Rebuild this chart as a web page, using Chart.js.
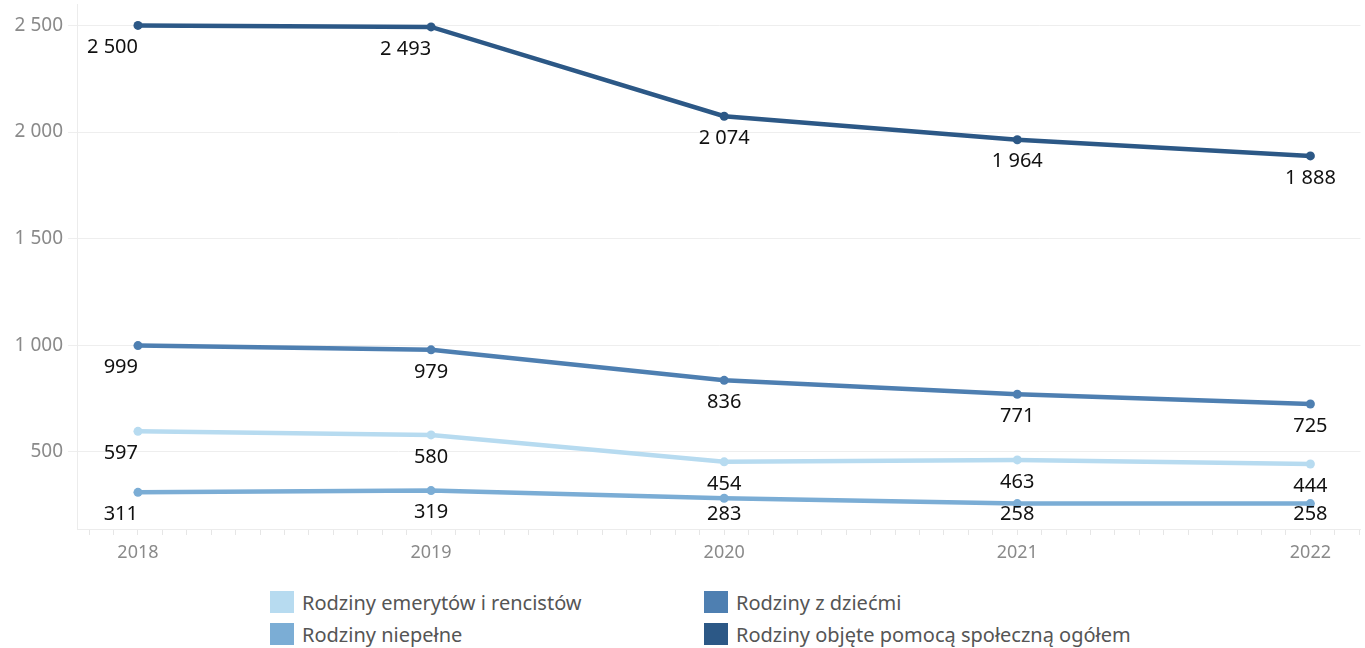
<!DOCTYPE html>
<html lang="pl">
<head>
<meta charset="utf-8">
<title>Rodziny objęte pomocą społeczną</title>
<script src="https://cdn.jsdelivr.net/npm/chart.js@4/dist/chart.umd.min.js"></script>
<style>
    html, body { margin: 0; padding: 0; background: #fff; }
    #wrap { position: relative; width: 1365px; height: 578px; }
    #legenda {
        display: grid;
        grid-template-columns: 434px 434px;
        grid-auto-rows: 32px;
        margin-left: 270px;
        margin-top: 8px;
        font-family: "Noto Sans", sans-serif;
        font-size: 20px;
        color: #555;
    }
    .poz { display: flex; align-items: center; }
    .kw { width: 24px; height: 22px; margin-right: 8px; }
</style>
</head>
<body>
<div id="wrap"><canvas id="wykres" width="1365" height="578"></canvas></div>
<div id="legenda"></div>
<script>
// Dane
const lata = [2018, 2019, 2020, 2021, 2022];
const emeryci = [597, 580, 454, 463, 444];
const niepelne = [311, 319, 283, 258, 258];
const zDziecmi = [999, 979, 836, 771, 725];
const ogolem = [2500, 2493, 2074, 1964, 1888];
const tickiY = [500, 1000, 1500, 2000, 2500];

const nazwy = {
    emeryci: 'Rodziny emerytów i rencistów',
    niepelne: 'Rodziny niepełne',
    zDziecmi: 'Rodziny z dziećmi',
    ogolem: 'Rodziny objęte pomocą społeczną ogółem'
};
const kolory = {
    emeryci: '#b7dbf0',
    niepelne: '#7badd5',
    zDziecmi: '#4e7fb1',
    ogolem: '#2c5886'
};

function formatuj(v) {
    return String(v).replace(/\B(?=(\d{3})+(?!\d))/g, ' ');
}

function seria(klucz, wartosci) {
    return {
        label: nazwy[klucz],
        data: lata.map((r, i) => ({ x: r, y: wartosci[i] })),
        borderColor: kolory[klucz],
        backgroundColor: kolory[klucz],
        borderWidth: 4.5,
        pointRadius: 4.5,
        pointBorderWidth: 0,
        pointHoverRadius: 4.5,
        tension: 0
    };
}

// Etykiety wartości pod punktami
const etykiety = {
    id: 'etykiety',
    afterDatasetsDraw(chart) {
        const ctx = chart.ctx;
        const dol = chart.chartArea.bottom - 15;
        ctx.save();
        ctx.font = '20px "Noto Sans", sans-serif';
        ctx.fillStyle = '#111';
        ctx.textBaseline = 'middle';
        chart.data.datasets.forEach((ds, d) => {
            const meta = chart.getDatasetMeta(d);
            meta.data.forEach((pt, i) => {
                const prawo = i === 0 || (ds.label === nazwy.ogolem && i === 1);
                ctx.textAlign = prawo ? 'right' : 'center';
                const y = Math.min(pt.y + 22, dol);
                ctx.fillText(formatuj(ds.data[i].y), pt.x, y);
            });
        });
        ctx.restore();
    }
};

const wykres = new Chart(document.getElementById('wykres'), {
    type: 'line',
    data: {
        datasets: [
            seria('emeryci', emeryci),
            seria('niepelne', niepelne),
            seria('zDziecmi', zDziecmi),
            seria('ogolem', ogolem)
        ]
    },
    options: {
        responsive: false,
        animation: false,
        layout: { padding: 0 },
        plugins: {
            legend: { display: false },
            tooltip: { enabled: false }
        },
        scales: {
            x: {
                type: 'linear',
                min: 2017.792,
                max: 2022.171,
                afterBuildTicks(scale) {
                    const t = [];
                    for (let m = Math.ceil(scale.min * 12); m <= Math.floor(scale.max * 12); m++) {
                        t.push({ value: m / 12 });
                    }
                    scale.ticks = t;
                },
                afterFit(scale) {
                    scale.height = 49;
                    scale.paddingLeft = 0;
                    scale.paddingRight = 0;
                },
                grid: {
                    drawOnChartArea: false,
                    tickLength: 6,
                    color: '#e6e6e6'
                },
                border: { color: '#ececec' },
                ticks: {
                    autoSkip: false,
                    maxRotation: 0,
                    padding: 7,
                    color: '#8a8a8a',
                    font: { family: 'Noto Sans', size: 18 },
                    callback(v) {
                        const r = Math.round(v);
                        return Math.abs(v - r) < 1e-6 ? String(r) : '';
                    }
                }
            },
            y: {
                min: 139,
                max: 2598,
                afterBuildTicks(scale) {
                    scale.ticks = tickiY.map(v => ({ value: v }));
                },
                afterFit(scale) {
                    scale.width = 77;
                    scale.paddingTop = 0;
                    scale.paddingBottom = 0;
                },
                grid: {
                    color: '#eeeeee',
                    tickLength: 9
                },
                border: { color: '#ececec' },
                ticks: {
                    padding: 5,
                    color: '#8a8a8a',
                    font: { family: 'Noto Sans', size: 19 },
                    callback: v => formatuj(v)
                }
            }
        }
    },
    plugins: [etykiety]
});

// Legenda w dwóch kolumnach
const kolejnosc = ['emeryci', 'zDziecmi', 'niepelne', 'ogolem'];
const legenda = document.getElementById('legenda');
kolejnosc.forEach(k => {
    const el = document.createElement('div');
    el.className = 'poz';
    el.innerHTML = '<span class="kw" style="background:' + kolory[k] + '"></span><span>' + nazwy[k] + '</span>';
    legenda.appendChild(el);
});
</script>
</body>
</html>
